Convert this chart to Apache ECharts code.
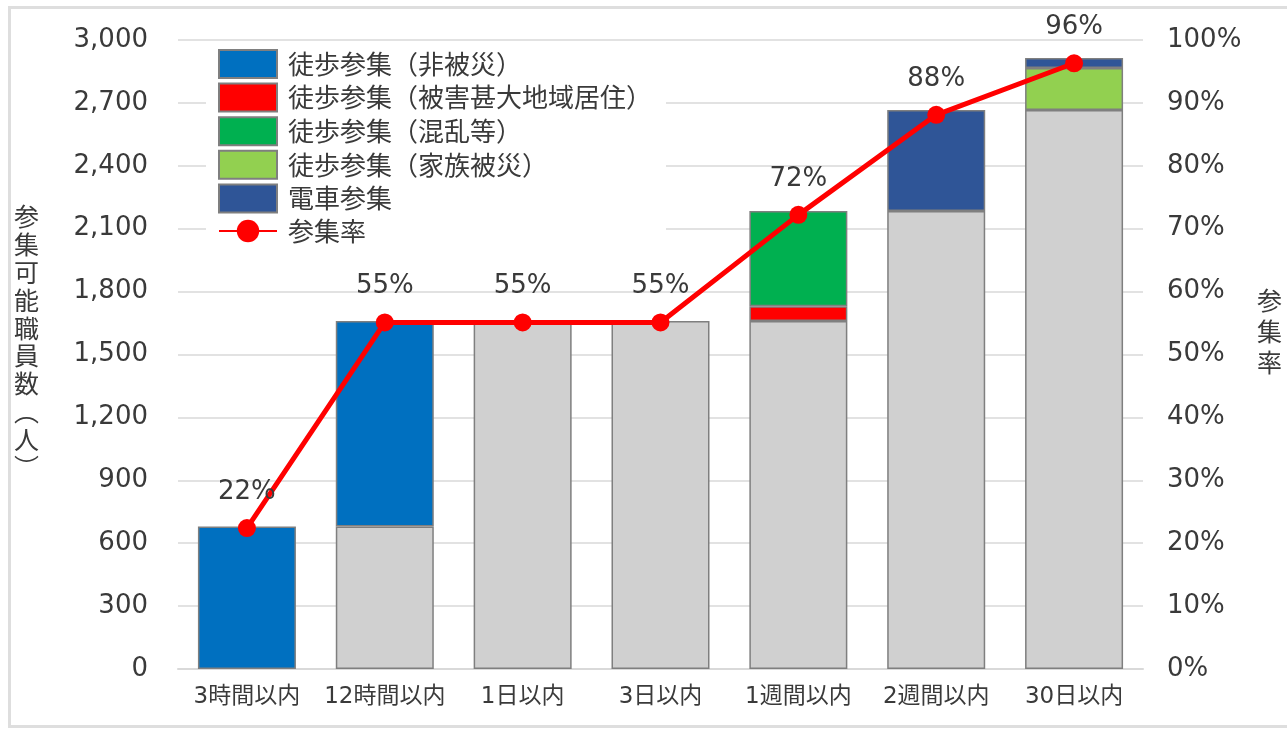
<!DOCTYPE html>
<html>
<head>
<meta charset="utf-8">
<script src="https://cdn.jsdelivr.net/npm/echarts@6/dist/echarts.min.js"></script>
<style>
  html, body { margin: 0; padding: 0; background: #fff; }
  #frame { position: absolute; left: 8px; top: 6px; width: 1290px; height: 722px; border: 3px solid #dedede; box-sizing: border-box; }
  #chart { position: absolute; left: 0; top: 0; width: 1287px; height: 733px; }
</style>
</head>
<body>
<div id="frame"></div>
<div id="chart"></div>
<script>
// 区分
var categories = ['3時間以内', '12時間以内', '1日以内', '3日以内', '1週間以内', '2週間以内', '30日以内']
// 前段階までの参集者（灰色）
var baseCount = [null, 680, 1660, 1660, 1660, 2184, 2666]
var walkNonDisaster = [680, 980, null, null, null, null, null]
var walkSevereArea = [null, null, null, null, 70, null, null]
var walkConfusion = [null, null, null, null, 454, null, null]
var walkFamily = [null, null, null, null, null, null, 200]
var trainCount = [null, null, null, null, null, 482, 48]
// 参集率（%）
var rate = [22.4, 55.1, 55.1, 55.1, 72.2, 88.1, 96.3]
var leftTicks = { min: 0, max: 3000, interval: 300 }
var rightTicks = { min: 0, max: 100, interval: 10 }

var cjkFont = '"Noto Sans CJK JP", sans-serif'
var numFont = '"DejaVu Sans", "Noto Sans CJK JP", sans-serif'
var textColor = '#3a3a3a'
var border = { borderColor: '#7f7f7f', borderWidth: 1.5 }

function barSeries(name, data, color) {
  return {
    name: name,
    type: 'bar',
    stack: 'total',
    barWidth: 98,
    data: data,
    itemStyle: Object.assign({ color: color }, border)
  }
}

var legendNames = ['徒歩参集（非被災）', '徒歩参集（被害甚大地域居住）', '徒歩参集（混乱等）', '徒歩参集（家族被災）', '電車参集']

var chart = echarts.init(document.getElementById('chart'))
chart.setOption({
  animation: false,
  textStyle: { fontFamily: cjkFont },
  grid: { left: 178, right: 144, top: 40, bottom: 64 },
  legend: {
    orient: 'vertical',
    left: 206,
    top: 46,
    itemWidth: 58,
    itemHeight: 28,
    itemGap: 3.6,
    backgroundColor: '#fff',
    padding: [3, 14, 6, 12],
    textStyle: { fontSize: 26, lineHeight: 28, color: textColor, fontFamily: cjkFont, padding: [0, 0, 0, 6] },
    data: legendNames.map(function (n) { return { name: n, icon: 'rect' } }).concat([{ name: '参集率' }])
  },
  graphic: [{
    type: 'text',
    left: 14,
    top: 203,
    style: {
      text: '参\n集\n可\n能\n職\n員\n数\n︵\n人\n︶',
      font: '25px ' + cjkFont,
      fill: textColor,
      lineHeight: 27.8,
      align: 'center'
    }
  }, {
    type: 'text',
    left: 1257,
    top: 285,
    style: {
      text: '参\n集\n率',
      font: '25px ' + cjkFont,
      fill: textColor,
      lineHeight: 31,
      align: 'center'
    }
  }],
  xAxis: {
    type: 'category',
    data: categories,
    axisTick: { show: false },
    axisLine: { lineStyle: { color: '#d9d9d9', width: 2 } },
    axisLabel: { interval: 0, fontSize: 23, color: textColor, margin: 17, fontFamily: numFont }
  },
  yAxis: [{
    type: 'value',
    min: leftTicks.min,
    max: leftTicks.max,
    interval: leftTicks.interval,
    axisLabel: {
      fontSize: 26, color: textColor, margin: 30, fontFamily: numFont,
      formatter: function (v) { return v.toLocaleString('en-US') }
    },
    splitLine: { lineStyle: { color: '#d9d9d9', width: 1.5 } }
  }, {
    type: 'value',
    min: rightTicks.min,
    max: rightTicks.max,
    interval: rightTicks.interval,
    axisLabel: { fontSize: 26, color: textColor, margin: 24, fontFamily: numFont, formatter: '{value}%' },
    splitLine: { show: false }
  }],
  series: [
    barSeries('参集済', baseCount, '#d0d0d0'),
    barSeries('徒歩参集（非被災）', walkNonDisaster, '#0070c0'),
    barSeries('徒歩参集（被害甚大地域居住）', walkSevereArea, '#ff0000'),
    barSeries('徒歩参集（混乱等）', walkConfusion, '#00b050'),
    barSeries('徒歩参集（家族被災）', walkFamily, '#92d050'),
    barSeries('電車参集', trainCount, '#2f5597'),
    {
      name: '参集率',
      type: 'line',
      yAxisIndex: 1,
      data: rate,
      symbol: 'circle',
      symbolSize: 18,
      itemStyle: { color: '#ff0000' },
      lineStyle: { color: '#ff0000', width: 5 },
      label: {
        show: true,
        position: 'top',
        distance: 14,
        fontSize: 26,
        fontFamily: numFont,
        color: textColor,
        formatter: function (p) { return Math.round(p.value) + '%' }
      }
    }
  ]
})
</script>
</body>
</html>
